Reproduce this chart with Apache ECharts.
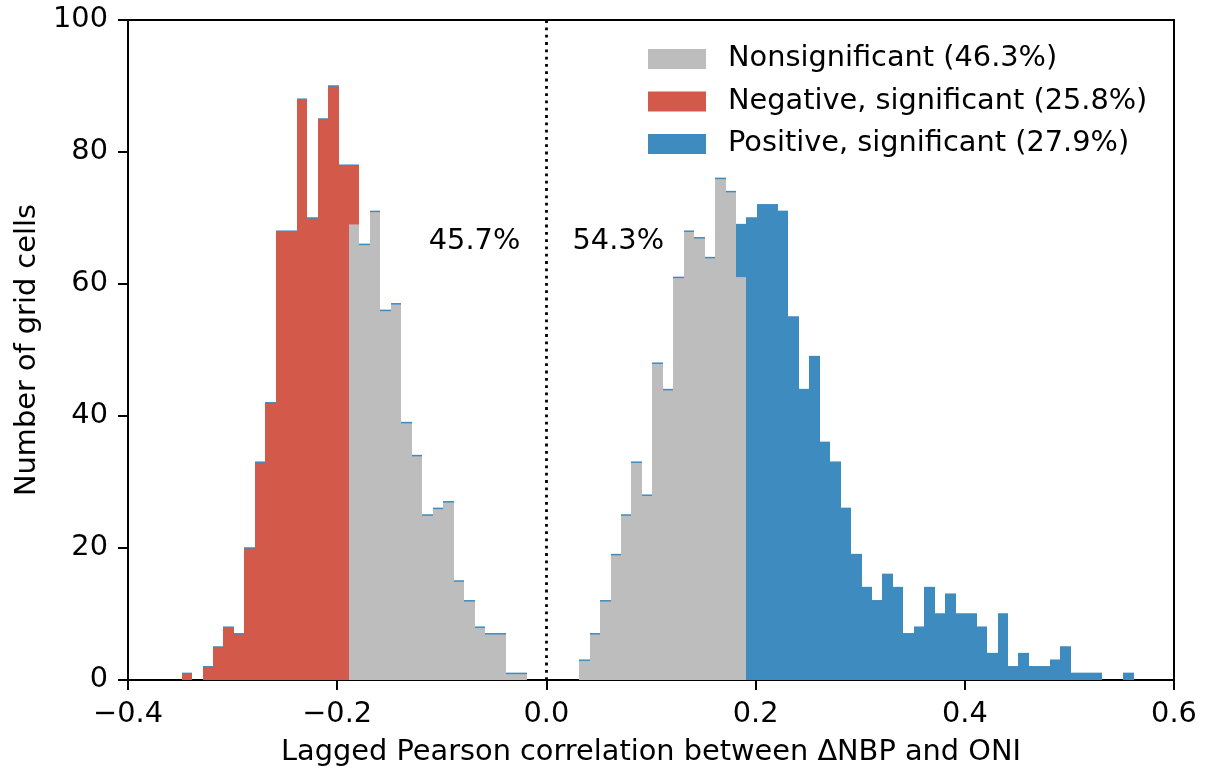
<!DOCTYPE html>
<html>
<head>
<meta charset="utf-8">
<script src="https://cdn.jsdelivr.net/npm/echarts@6/dist/echarts.min.js"></script>
<style>
  html, body { margin: 0; padding: 0; background: #fff; }
  #chart { width: 1205px; height: 769px; }
</style>
</head>
<body>
<div id="chart"></div>
<script>
// ---- Data (histogram of lagged Pearson correlation, 91 bins of width 0.01) ----
const binStart = -0.3487;
const binWidth = 0.01;

const nonsignificant = [
  0,0,0,0,0,0,0,0,0,0,0,0,0,0,0,0,
  69,66,71,56,57,39,34,25,26,27,15,12,8,7,7,1,1,
  0,0,0,0,0,
  3,7,12,19,25,33,28,48,44,61,68,67,64,76,74,61,
  0,0,0,0,0,0,0,0,0,0,0,0,0,0,0,0,0,0,0,0,0,0,0,0,0,0,0,0,0,0,0,0,0,0,0,0,0
];
const negativeSig = [
  1,0,2,5,8,7,20,33,42,68,68,88,70,85,90,78,
  9,0,0,0,0,0,0,0,0,0,0,0,0,0,0,0,0,
  0,0,0,0,0,
  0,0,0,0,0,0,0,0,0,0,0,0,0,0,0,0,
  0,0,0,0,0,0,0,0,0,0,0,0,0,0,0,0,0,0,0,0,0,0,0,0,0,0,0,0,0,0,0,0,0,0,0,0,0
];
const positiveSig = [
  0,0,0,0,0,0,0,0,0,0,0,0,0,0,0,0,
  0,0,0,0,0,0,0,0,0,0,0,0,0,0,0,0,0,
  0,0,0,0,0,
  0,0,0,0,0,0,0,0,0,0,0,0,0,0,0,8,
  70,72,72,71,55,44,49,36,33,26,19,14,12,16,14,7,8,14,10,13,10,10,8,4,10,2,4,2,2,3,5,1,1,1,0,0,1
];

const seriesNames = ['Nonsignificant (46.3%)', 'Negative, significant (25.8%)', 'Positive, significant (27.9%)'];
const seriesColors = ['#bdbdbd', '#d3594b', '#3e8bbf'];

const xTicks = { min: -0.4, max: 0.6, interval: 0.2 };
const yTicks = { min: 0, max: 100, interval: 20 };

const annotations = [
  { x: -0.025, y: 66.4, text: '45.7%', align: 'right' },
  { x: 0.025, y: 66.4, text: '54.3%', align: 'left' }
];
const refLineX = 0;

// ---- Build stacked layers ----
const layers = [nonsignificant, negativeSig, positiveSig];
function layerData(k) {
  const out = [];
  for (let i = 0; i < nonsignificant.length; i++) {
    let base = 0;
    for (let j = 0; j < k; j++) base += layers[j][i];
    const x0 = binStart + i * binWidth;
    out.push([x0, x0 + binWidth, base, base + layers[k][i]]);
  }
  return out;
}
const edgeData = [];
for (let i = 0; i < nonsignificant.length; i++) {
  const tot = nonsignificant[i] + negativeSig[i] + positiveSig[i];
  const x0 = binStart + i * binWidth;
  edgeData.push([x0, x0 + binWidth, tot, tot]);
}

function rectItem(params, api, color) {
  const x0 = api.value(0), x1 = api.value(1), y0 = api.value(2), y1 = api.value(3);
  if (y1 <= y0) return null;
  const p0 = api.coord([x0, y0]);
  const p1 = api.coord([x1, y1]);
  const left = Math.round(p0[0]), right = Math.round(p1[0]);
  return {
    type: 'rect',
    shape: { x: left, y: p1[1], width: right - left, height: p0[1] - p1[1] },
    style: { fill: color }
  };
}

const FONT = 'DejaVu Sans';
const FS = 28.8;

const series = layers.map((arr, k) => ({
  name: seriesNames[k],
  type: 'custom',
  itemStyle: { color: seriesColors[k] },
  encode: { x: [0, 1], y: [2, 3] },
  renderItem: (params, api) => rectItem(params, api, seriesColors[k]),
  data: layerData(k),
  silent: true
}));

// thin blue top edges (zero-height positive layer on top of every bar)
series.push({
  name: 'edge',
  type: 'custom',
  encode: { x: [0, 1], y: [2, 3] },
  renderItem: (params, api) => {
    const x0 = api.value(0), x1 = api.value(1), y = api.value(2);
    if (y <= 0) return null;
    const p0 = api.coord([x0, y]);
    const p1 = api.coord([x1, y]);
    const left = Math.round(p0[0]), right = Math.round(p1[0]);
    return {
      type: 'rect',
      shape: { x: left, y: p0[1] - 0.75, width: right - left, height: 1.5 },
      style: { fill: seriesColors[2] }
    };
  },
  data: edgeData,
  z: 3,
  silent: true
});

// annotations + dotted reference line
series.push({
  name: 'annot',
  type: 'custom',
  encode: { x: 0, y: 1 },
  renderItem: (params, api) => {
    const a = annotations[params.dataIndex];
    const p = api.coord([a.x, a.y]);
    return {
      type: 'text',
      x: p[0], y: p[1],
      style: {
        text: a.text, fill: '#000', font: FS + 'px "' + FONT + '"',
        align: a.align, verticalAlign: 'middle'
      }
    };
  },
  data: annotations.map(a => [a.x, a.y]),
  markLine: {
    silent: true,
    symbol: 'none',
    label: { show: false },
    lineStyle: { color: '#000', width: 2.8, type: [2.8, 4.5] },
    data: [[{ coord: [refLineX, yTicks.min] }, { coord: [refLineX, yTicks.max] }]]
  },
  z: 4,
  silent: true
});

function fmtX(v) {
  if (Math.abs(v) < 1e-9) return '0.0';
  return (v < 0 ? '\u2212' : '') + Math.abs(v).toFixed(1);
}

const chart = echarts.init(document.getElementById('chart'), null, { renderer: 'canvas' });
chart.setOption({
  animation: false,
  backgroundColor: '#fff',
  textStyle: { fontFamily: FONT },
  grid: {
    left: 128, right: 31, top: 20, bottom: 89,
    outerBoundsMode: 'none',
    containLabel: false,
    show: true, borderColor: '#000', borderWidth: 2, backgroundColor: 'transparent'
  },
  legend: {
    left: 648, top: 44, orient: 'vertical',
    itemWidth: 58, itemHeight: 20, itemGap: 12.5, padding: 0,
    icon: 'rect',
    selectedMode: false,
    data: seriesNames.map((n, k) => ({ name: n, icon: 'rect', itemStyle: { color: seriesColors[k] } })),
    textStyle: { fontSize: FS, fontFamily: FONT, color: '#000', lineHeight: 30, padding: [0, 0, 0, 17] }
  },
  xAxis: {
    type: 'value',
    min: xTicks.min, max: xTicks.max, interval: xTicks.interval,
    name: 'Lagged Pearson correlation between \u0394NBP and ONI',
    nameLocation: 'middle', nameGap: 58,
    nameTextStyle: { fontSize: FS, fontFamily: FONT, color: '#000' },
    axisLine: { show: true, onZero: false, lineStyle: { color: '#000', width: 2 } },
    axisTick: { show: true, inside: false, length: 10, lineStyle: { color: '#000', width: 2 } },
    axisLabel: { fontSize: FS, fontFamily: FONT, color: '#000', margin: 20, formatter: fmtX },
    splitLine: { show: false }
  },
  yAxis: {
    type: 'value',
    min: yTicks.min, max: yTicks.max, interval: yTicks.interval,
    name: 'Number of grid cells',
    nameLocation: 'middle', nameGap: 83,
    nameTextStyle: { fontSize: FS, fontFamily: FONT, color: '#000' },
    axisLine: { show: true, onZero: false, lineStyle: { color: '#000', width: 2 } },
    axisTick: { show: true, inside: false, length: 10, lineStyle: { color: '#000', width: 2 } },
    axisLabel: { fontSize: FS, fontFamily: FONT, color: '#000', margin: 20, formatter: v => String(Math.round(v)) },
    splitLine: { show: false }
  },
  series: series
});
</script>
</body>
</html>
